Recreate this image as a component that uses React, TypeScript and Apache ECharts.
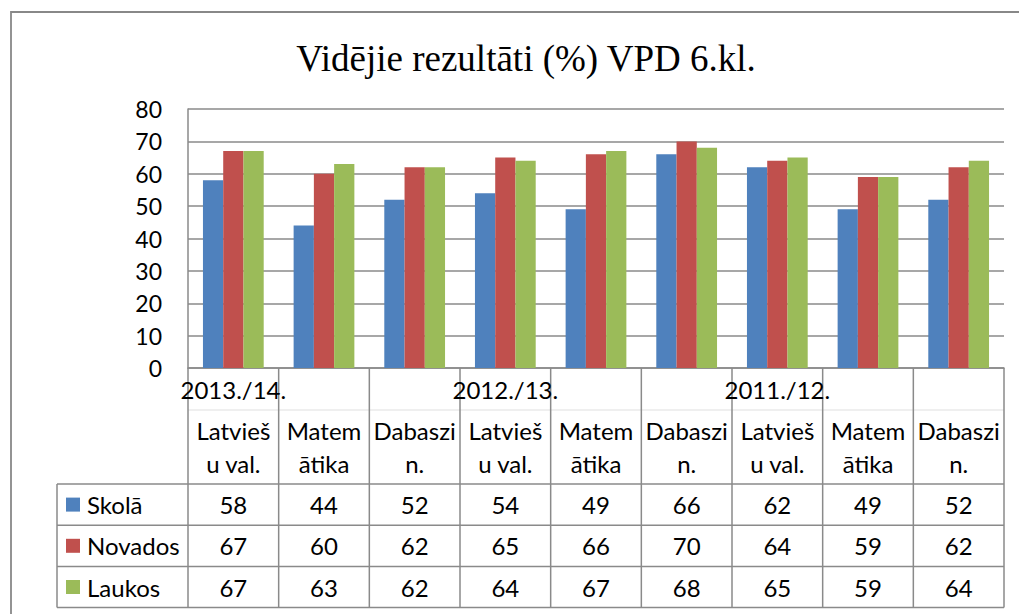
import React, { useEffect, useRef } from "react";
import * as echarts from "echarts";

const titleText = "Vidējie rezultāti (%) VPD 6.kl.";
const years = ["2013./14.", "2012./13.", "2011./12."];
const categories = [
  "Latvieš\nu val.", "Matem\nātika", "Dabaszi\nn.",
  "Latvieš\nu val.", "Matem\nātika", "Dabaszi\nn.",
  "Latvieš\nu val.", "Matem\nātika", "Dabaszi\nn.",
];
const seriesNames = ["Skolā", "Novados", "Laukos"];
const skola = [58, 44, 52, 54, 49, 66, 62, 49, 52];
const novados = [67, 60, 62, 65, 66, 70, 64, 59, 62];
const laukos = [67, 63, 62, 64, 67, 68, 65, 59, 64];
const seriesData = [skola, novados, laukos];
const yMin = 0;
const yMax = 80;
const yStep = 10;

const colors = ["#4F81BD", "#C0504D", "#9BBB59"];
const LINE = "#8a8a8a";
const FONT = "Lato";
const FS = 24;

export default function App() {
  const ref = useRef<HTMLDivElement>(null);
  useEffect(() => {
    if (!ref.current) return;
    const chart = echarts.init(ref.current, null, { renderer: "svg" });
    const option: any = {
      animation: false,
      backgroundColor: "#ffffff",
      title: {
        text: titleText,
        left: 521,
        top: 35,
        textAlign: "center",
        textStyle: {
          fontFamily: "Liberation Serif",
          fontSize: 37,
          fontWeight: "normal",
          color: "#000",
        },
      },
      grid: { left: 188, right: 15, top: 109, bottom: 246, containLabel: false },
      xAxis: {
        type: "category",
        data: categories,
        axisLine: { show: true, lineStyle: { color: LINE, width: 1.5 } },
        axisTick: { show: false },
        axisLabel: {
          interval: 0,
          margin: 46,
          fontFamily: FONT,
          fontSize: FS,
          lineHeight: 33,
          color: "#000",
        },
      },
      yAxis: {
        type: "value",
        min: yMin,
        max: yMax,
        interval: yStep,
        axisLine: { show: true, lineStyle: { color: LINE, width: 1.5 } },
        axisTick: { show: false },
        axisLabel: {
          margin: 26,
          fontFamily: FONT,
          fontSize: 23,
          color: "#000",
        },
        splitLine: { show: true, lineStyle: { color: LINE, width: 1.5 } },
      },
      series: seriesNames.map((name, i) => ({
        name,
        type: "bar",
        data: seriesData[i],
        itemStyle: { color: colors[i] },
        barGap: "0%",
        barCategoryGap: "33%",
      })),
    };
    chart.setOption(option);

    const centers = categories.map((_, i) => chart.convertToPixel({ xAxisIndex: 0 }, i) as number);
    const half = (centers[1] - centers[0]) / 2;
    const y0 = chart.convertToPixel({ yAxisIndex: 0 }, 0) as number;
    const xLeft = centers[0] - half;
    const xRight = centers[centers.length - 1] + half;
    const headerBottom = y0 + 116;
    const rowH = 41.2;
    const tableBottom = headerBottom + rowH * 3;
    const legendLeft = 57;
    const g: any[] = [];
    const line = (x1: number, y1: number, x2: number, y2: number, color = LINE, w = 1.5) =>
      g.push({ type: "line", shape: { x1, y1, x2, y2 }, style: { stroke: color, lineWidth: w }, z: 10 });

    // outer frame
    g.push({ type: "rect", shape: { x: 11, y: 12, width: 1100, height: 700 }, style: { fill: "none", stroke: "#888", lineWidth: 1.8 }, z: 1 });

    // faint separator between year and category rows
    line(xLeft, y0 + 42, xRight, y0 + 42, "#e0e0e0", 1.2);
    // vertical table lines
    for (let i = 0; i <= categories.length; i++) {
      const x = xLeft + i * half * 2;
      line(x, y0, x, tableBottom);
    }
    // horizontal table lines
    for (let r = 0; r <= 3; r++) {
      const y = headerBottom + r * rowH;
      line(legendLeft, y, xRight, y);
    }
    line(legendLeft, headerBottom, legendLeft, tableBottom);

    // year labels
    years.forEach((yr, k) => {
      g.push({
        type: "text",
        x: centers[k * 3],
        y: y0 + 21,
        style: { text: yr, fontFamily: FONT, fontSize: FS, fill: "#000", align: "center", verticalAlign: "middle" },
        z: 20,
      });
    });

    // legend column + values
    seriesNames.forEach((name, r) => {
      const cy = headerBottom + rowH * (r + 0.5);
      g.push({ type: "rect", shape: { x: 66, y: cy - 7, width: 14, height: 14 }, style: { fill: colors[r] }, z: 20 });
      g.push({
        type: "text",
        x: 87,
        y: cy,
        style: { text: name, fontFamily: FONT, fontSize: FS, fill: "#000", align: "left", verticalAlign: "middle" },
        z: 20,
      });
      seriesData[r].forEach((v, i) => {
        g.push({
          type: "text",
          x: centers[i],
          y: cy,
          style: { text: String(v), fontFamily: FONT, fontSize: FS, fill: "#000", align: "center", verticalAlign: "middle" },
          z: 20,
        });
      });
    });

    chart.setOption({ graphic: g });
    return () => chart.dispose();
  }, []);
  return (
    <div
      ref={ref}
      style={{ position: "fixed", left: 0, top: 0, width: 1019, height: 614, background: "#fff" }}
    />
  );
}
